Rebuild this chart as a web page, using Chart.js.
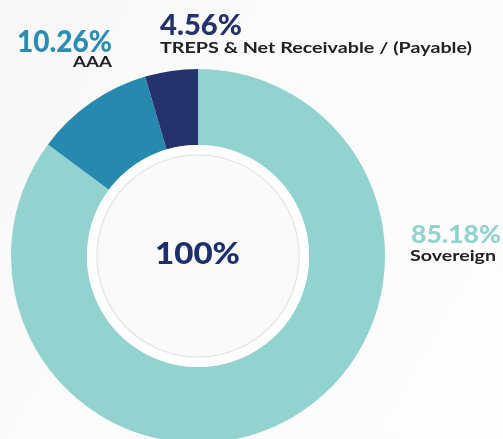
<!DOCTYPE html>
<html>
<head>
<meta charset="utf-8">
<script src="https://cdn.jsdelivr.net/npm/chart.js@4/dist/chart.umd.min.js"></script>
<style>
  html, body { margin: 0; padding: 0; overflow: hidden; background: #fafafa; }
  #wrap { width: 503px; height: 439px; overflow: hidden; position: relative;
          background: linear-gradient(120deg, #f7f7f8 0%, #fcfcfc 45%, #fdfdfd 100%); }
  canvas { display: block; }
</style>
</head>
<body>
<div id="wrap"><canvas id="c" width="503" height="470"></canvas></div>
<script>
// data
const categories = ['Sovereign', 'AAA', 'TREPS & Net Receivable / (Payable)']
const shares = [85.18, 10.26, 4.56]
const sliceColors = ['#93d3cf', '#2789ae', '#24336e']
const valueColors = ['#93d3cf', '#2a8db3', '#24336e']
const totalLabel = '100%'

// draw text at a given font size, squeezed/stretched to the width seen in the picture
function fitText(ctx, text, x, y, size, width, color, align, weight) {
  ctx.save()
  ctx.font = (weight || 700) + ' ' + size + 'px Lato, "Open Sans", sans-serif'
  ctx.fillStyle = color
  ctx.textBaseline = 'alphabetic'
  ctx.textAlign = 'left'
  const w = ctx.measureText(text).width
  const sx = width / w
  const left = align === 'right' ? x - width : x
  ctx.translate(left, y)
  ctx.scale(sx, 1)
  ctx.fillText(text, 0, 0)
  ctx.restore()
}

const holePlugin = {
  id: 'hole',
  afterDatasetsDraw(chart) {
    const arc = chart.getDatasetMeta(0).data[0]
    const ctx = chart.ctx
    const cx = arc.x, cy = arc.y
    ctx.save()
    ctx.beginPath()
    ctx.arc(cx, cy, arc.innerRadius, 0, Math.PI * 2)
    ctx.fillStyle = '#fefefe'
    ctx.fill()
    ctx.beginPath()
    ctx.arc(cx, cy, arc.innerRadius - 10, 0, Math.PI * 2)
    ctx.fillStyle = '#fafafb'
    ctx.fill()
    ctx.lineWidth = 1.2
    ctx.strokeStyle = '#e2e2ea'
    ctx.stroke()
    ctx.restore()
  },
  afterDraw(chart) {
    const ctx = chart.ctx
    // centre total
    fitText(ctx, totalLabel, 155, 264, 30, 85, '#1c2f6e', 'left', 900)
    // Sovereign, right of the ring
    fitText(ctx, shares[0].toFixed(2) + '%', 411, 243, 25, 90, valueColors[0], 'left', 900)
    fitText(ctx, categories[0], 410, 261, 15.5, 86, '#222222')
    // AAA, top left
    fitText(ctx, shares[1].toFixed(2) + '%', 112, 52, 30, 95, valueColors[1], 'right', 900)
    fitText(ctx, categories[1], 112, 67, 16, 39, '#222222', 'right')
    // TREPS, top
    fitText(ctx, shares[2].toFixed(2) + '%', 160, 35, 28, 82, valueColors[2], 'left', 900)
    fitText(ctx, categories[2], 160, 53, 16, 312, '#222222')
  }
}

new Chart(document.getElementById('c'), {
  type: 'doughnut',
  data: {
    labels: categories,
    datasets: [{
      data: shares,
      backgroundColor: sliceColors,
      borderWidth: 0,
      hoverOffset: 0
    }]
  },
  options: {
    responsive: false,
    animation: false,
    cutout: '59.4%',
    layout: { padding: { left: 11, right: 118, top: 69, bottom: 27 } },
    plugins: {
      legend: { display: false },
      tooltip: { enabled: false }
    }
  },
  plugins: [holePlugin]
})
</script>
</body>
</html>
